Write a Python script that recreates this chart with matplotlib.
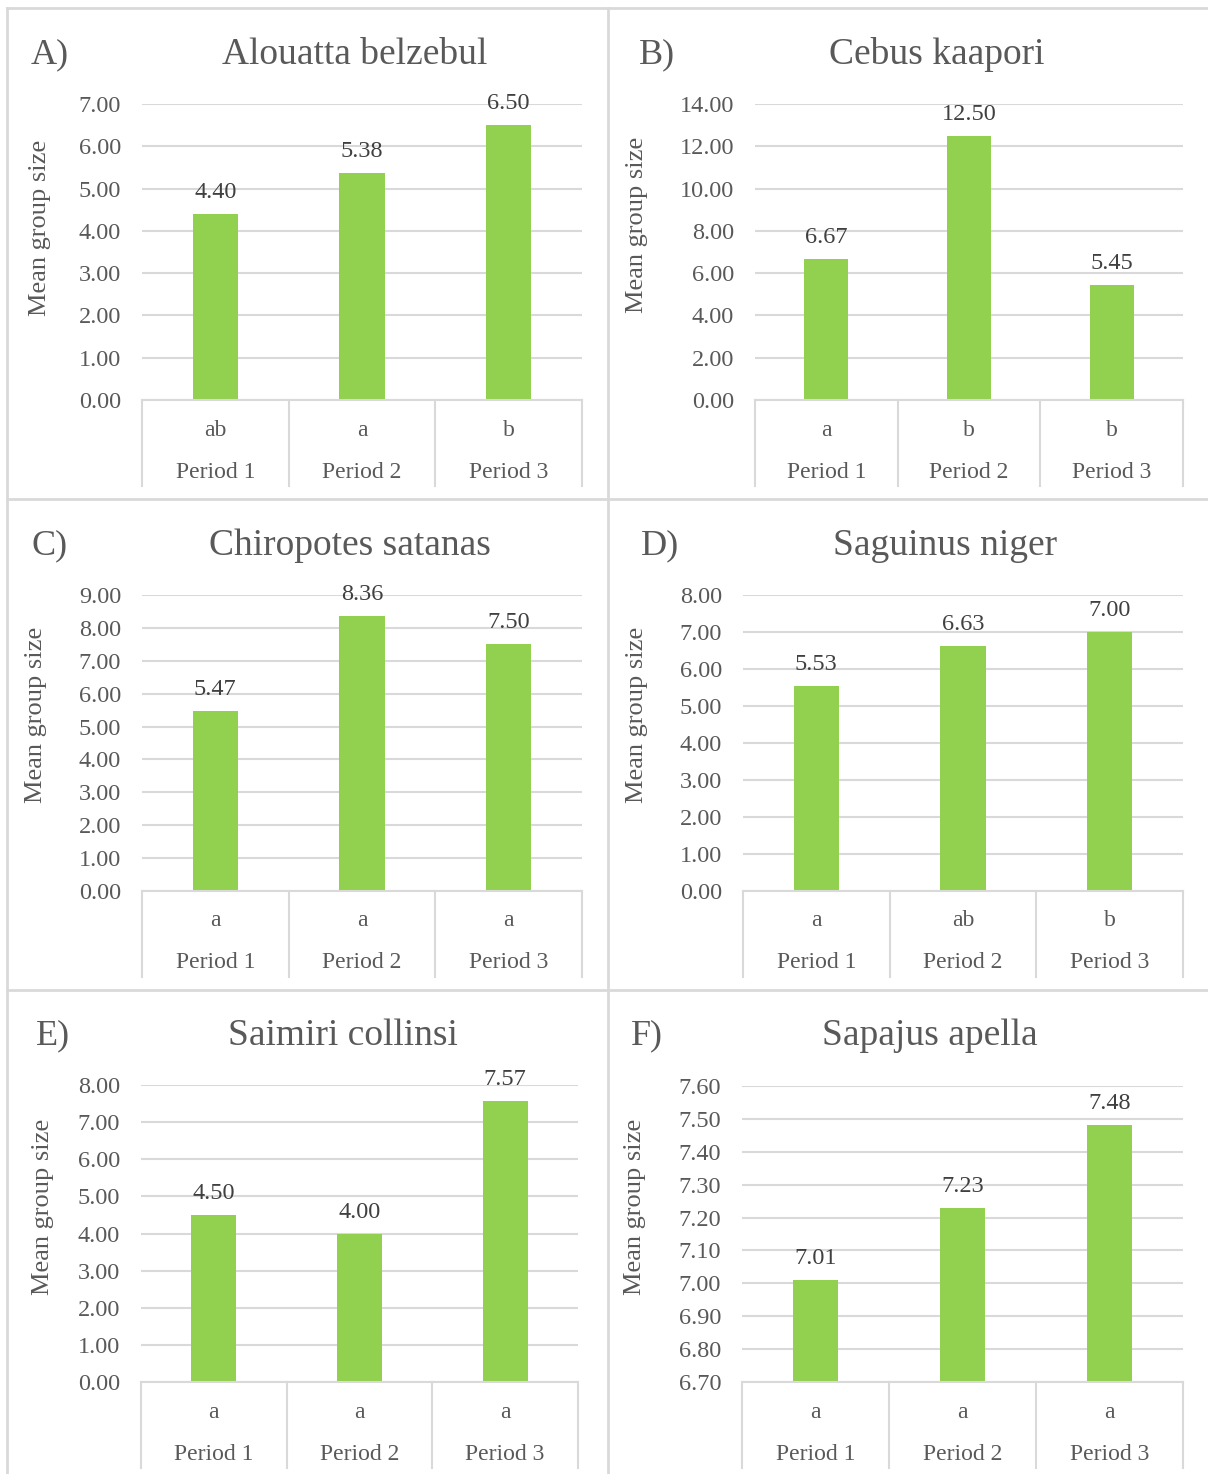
import matplotlib
matplotlib.use("Agg")
import matplotlib.pyplot as plt
from matplotlib.transforms import blended_transform_factory
from matplotlib.lines import Line2D

# ---------------- data ----------------
panel_tags = ["A)", "B)", "C)", "D)", "E)", "F)"]
species = ["Alouatta belzebul", "Cebus kaapori", "Chiropotes satanas",
           "Saguinus niger", "Saimiri collinsi", "Sapajus apella"]
periods = ["Period 1", "Period 2", "Period 3"]
alouatta = [4.40, 5.38, 6.50]
cebus = [6.67, 12.50, 5.45]
chiropotes = [5.47, 8.36, 7.50]
saguinus = [5.53, 6.63, 7.00]
saimiri = [4.50, 4.00, 7.57]
sapajus = [7.01, 7.23, 7.48]
letters_a = ["ab", "a", "b"]
letters_b = ["a", "b", "b"]
letters_c = ["a", "a", "a"]
letters_d = ["a", "ab", "b"]
letters_e = ["a", "a", "a"]
letters_f = ["a", "a", "a"]
y_ranges = [(0, 7, 1), (0, 14, 2), (0, 9, 1), (0, 8, 1), (0, 8, 1), (6.7, 7.6, 0.1)]

values = [alouatta, cebus, chiropotes, saguinus, saimiri, sapajus]
letters = [letters_a, letters_b, letters_c, letters_d, letters_e, letters_f]

# ---------------- layout (pixels) ----------------
W, H = 1208, 1474
axes_px = [(142, 104, 582, 400), (755, 104, 1183, 400),
           (142, 595, 582, 891), (743, 595, 1183, 891),
           (141, 1085, 578, 1382), (742, 1086, 1183, 1382)]
tag_px = [(50, 55), (657, 55), (50, 546), (660, 546), (53, 1036), (647, 1036)]
title_px = [(355, 55), (937, 55), (350, 546), (945, 546), (343, 1036), (930, 1036)]
ylab_px = [(40, 228), (637, 225), (36, 715), (637, 715), (43, 1207), (635, 1207)]

BAR = "#92D050"
GRID = "#D9D9D9"
TXT = "#595959"
LBL = "#404040"
FONT = ["Liberation Serif", "DejaVu Serif"]

plt.rcParams["font.family"] = FONT

fig = plt.figure(figsize=(W / 100, H / 100), dpi=100)
fig.patch.set_facecolor("white")

def fx(x):
    return x / W

def fy(y):
    return 1 - y / H

# panel borders
border_kw = dict(color=GRID, lw=2.0, transform=fig.transFigure)
for xs, ys in [((7, 1208), (8, 8)), ((7, 7), (8, 1474)),
               ((608, 608), (8, 1474)), ((7, 1208), (499, 499)),
               ((7, 1208), (990, 990))]:
    fig.add_artist(Line2D([fx(xs[0]), fx(xs[1])], [fy(ys[0]), fy(ys[1])], **border_kw))

for i in range(6):
    l, t, r, b = axes_px[i]
    ax = fig.add_axes([fx(l), fy(b), (r - l) / W, (b - t) / H])
    ymin, ymax, step = y_ranges[i]
    x = list(range(len(periods)))
    ax.bar(x, [v - ymin for v in values[i]], width=0.31, color=BAR, bottom=ymin, zorder=3)
    ax.set_xlim(-0.5, 2.5)
    ax.set_ylim(ymin, ymax)
    n = int(round((ymax - ymin) / step))
    ticks = [ymin + k * step for k in range(n + 1)]
    ax.set_yticks(ticks)
    ax.set_yticklabels([f"{v:.2f}" for v in ticks], fontsize=17.5, color=TXT)
    ax.tick_params(axis="y", length=0, pad=15)
    ax.set_xticks([])
    ax.grid(axis="y", color=GRID, lw=1.5, zorder=0)
    for s in ["top", "right", "left"]:
        ax.spines[s].set_visible(False)
    ax.spines["bottom"].set_color(GRID)
    ax.spines["bottom"].set_linewidth(1.5)
    ax.spines["bottom"].set_zorder(4)

    for xi, v in zip(x, values[i]):
        ax.annotate(f"{v:.2f}", (xi, v), xytext=(0, 16), textcoords="offset pixels",
                    ha="center", va="baseline", fontsize=17.5, color=LBL)

    hpx = b - t
    tr = blended_transform_factory(ax.transData, ax.transAxes)
    for xi in x:
        ax.text(xi, -30 / hpx, letters[i][xi], transform=tr, ha="center", va="center",
                fontsize=17, color=TXT)
        ax.text(xi, -72 / hpx, periods[xi], transform=tr, ha="center", va="center",
                fontsize=17, color=TXT)
    for xs in [-0.5, 0.5, 1.5, 2.5]:
        ax.plot([xs, xs], [0, -86 / hpx], transform=tr, color=GRID, lw=1.5, clip_on=False)

    fig.text(fx(tag_px[i][0]), fy(tag_px[i][1]), panel_tags[i], ha="center", va="center",
             fontsize=26, color=TXT)
    fig.text(fx(title_px[i][0]), fy(title_px[i][1]), species[i], ha="center", va="center",
             fontsize=27, color=TXT)
    fig.text(fx(ylab_px[i][0]), fy(ylab_px[i][1]), "Mean group size", ha="center",
             va="center", rotation=90, fontsize=19, color=TXT)

fig.savefig("out.png", dpi=100, facecolor="white")
